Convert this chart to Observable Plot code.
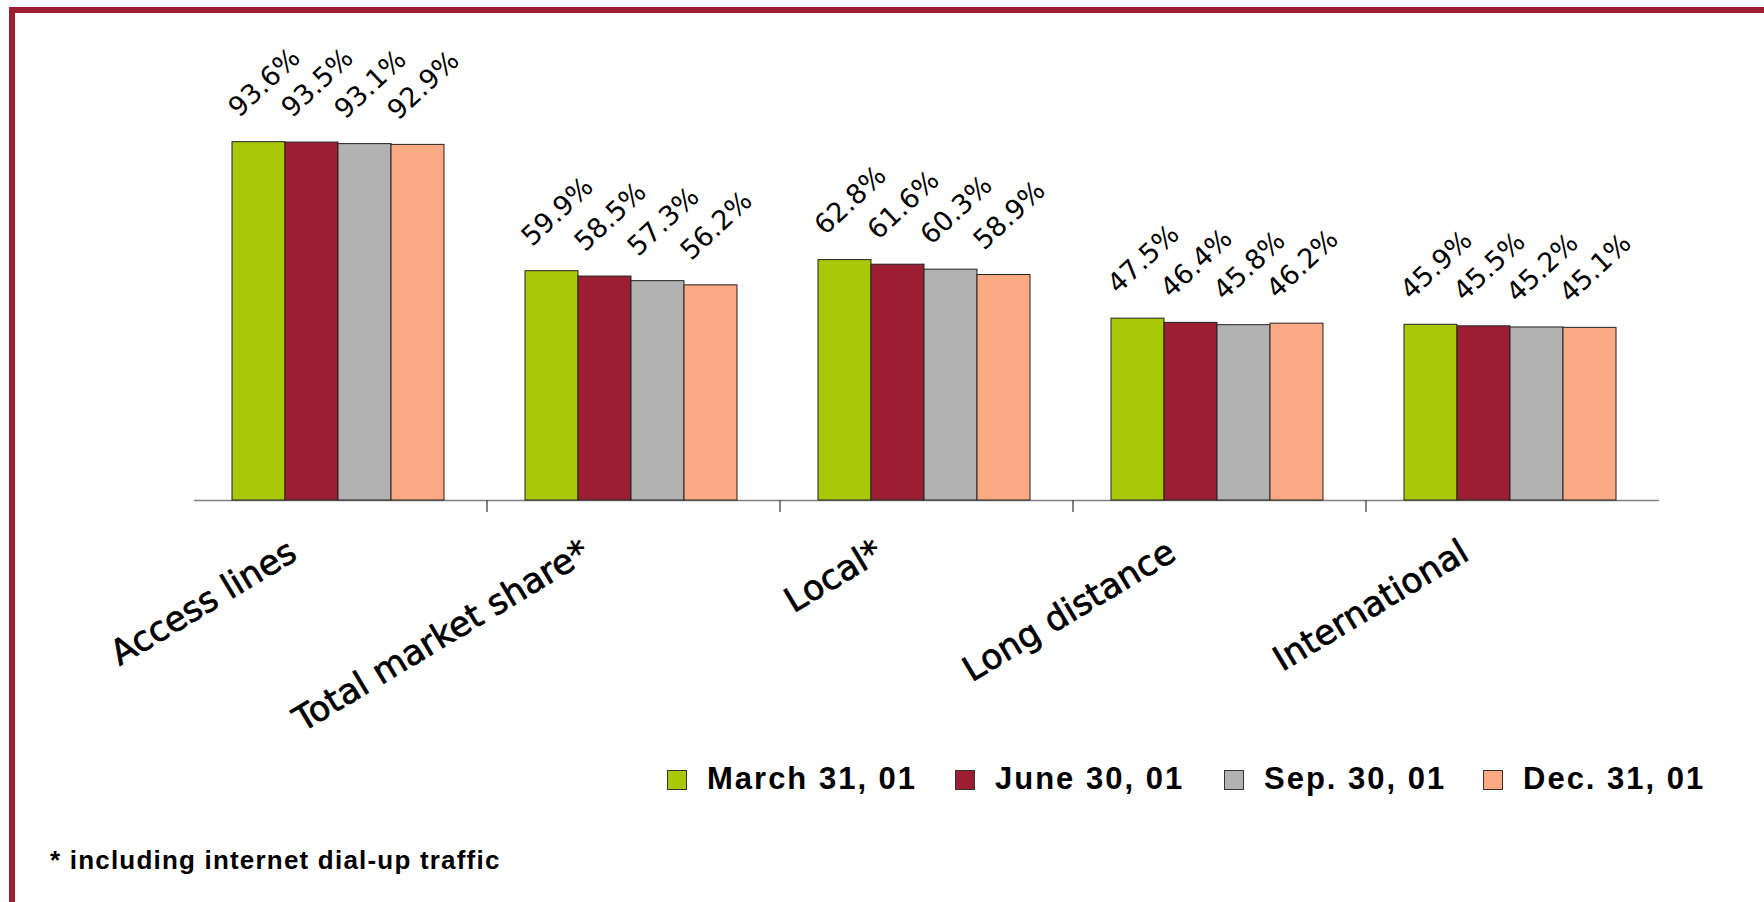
<!DOCTYPE html>
<html>
<head>
<meta charset="utf-8">
<script src="https://cdn.jsdelivr.net/npm/d3@7"></script>
<script src="https://cdn.jsdelivr.net/npm/@observablehq/plot@0.6"></script>
<style>
  html, body { margin: 0; padding: 0; background: #fff; }
  #wrap { position: relative; width: 1764px; height: 902px; overflow: hidden; background: #fff; }
  #frame { position: absolute; left: 9px; top: 7px; right: -10px; bottom: -10px;
           border-top: 6px solid #9b1e33; border-left: 6px solid #9b1e33; pointer-events: none; }
  #chart { position: absolute; left: 0; top: 0; }
  .leg { position: absolute; top: 770px; height: 20px; font-family: "Liberation Sans", Arial, sans-serif;
         font-size: 31px; font-weight: bold; letter-spacing: 2px; color: #000; white-space: nowrap; }
  .leg .sw { position: absolute; left: 0; top: 0; width: 18px; height: 18px; border: 1px solid #333; }
  .leg .lb { position: absolute; left: 40px; top: -8px; line-height: 34px; }
  #caption { position: absolute; left: 50px; top: 845px; font-family: "Liberation Sans", Arial, sans-serif;
             font-size: 26px; font-weight: bold; letter-spacing: 1.2px; color: #000; white-space: nowrap; }
</style>
</head>
<body>
<div id="wrap">
  <div id="chart"></div>
  <div id="frame"></div>
  <div id="legend"></div>
  <div id="caption"></div>
</div>
<script>
const categories = ["Access lines", "Total market share*", "Local*", "Long distance", "International"];
const seriesNames = ["March 31, 01", "June 30, 01", "Sep. 30, 01", "Dec. 31, 01"];
const march31 = [93.6, 59.9, 62.8, 47.5, 45.9];
const june30  = [93.5, 58.5, 61.6, 46.4, 45.5];
const sep30   = [93.1, 57.3, 60.3, 45.8, 45.2];
const dec31   = [92.9, 56.2, 58.9, 46.2, 45.1];
const seriesColors = ["#a8c808", "#9b1e33", "#b2b2b2", "#fbaa83"];
const captionText = "* including internet dial-up traffic";

const seriesValues = [march31, june30, sep30, dec31];
const data = [];
categories.forEach((c, i) => {
  seriesNames.forEach((s, j) => {
    data.push({category: c, series: s, value: seriesValues[j][i]});
  });
});

const plot = Plot.plot({
  width: 1764,
  height: 902,
  marginLeft: 192,
  marginRight: 102.5,
  marginTop: 117.2,
  marginBottom: 402,
  style: {background: "transparent", overflow: "visible"},
  fx: {domain: categories, padding: 0, axis: null, label: null},
  x: {domain: seriesNames, paddingInner: 0, paddingOuter: 0.75, align: 0.47, axis: null, label: null},
  y: {domain: [0, 100], axis: null, label: null},
  color: {domain: seriesNames, range: seriesColors},
  marks: [
    Plot.ruleY([0], {stroke: "#808080", strokeWidth: 1.6}),
    Plot.barY(data, {fx: "category", x: "series", y: "value", fill: "series",
                     stroke: "#222", strokeWidth: 1}),
    Plot.text(data, {fx: "category", x: "series", y: "value",
                     text: d => d.value.toFixed(1) + "%",
                     rotate: -43, textAnchor: "start", lineAnchor: "bottom",
                     dx: -20, dy: -24, fontSize: 27, fill: "#000",
                     fontFamily: "DejaVu Sans, sans-serif"}),
    Plot.text(categories, {fx: d => d, text: d => d, frameAnchor: "bottom",
                     rotate: -31, textAnchor: "end", lineAnchor: "bottom",
                     dx: -42, dy: 58, fontSize: 34.5, fill: "#000",
                     stroke: "#000", strokeWidth: 0.7,
                     fontFamily: "DejaVu Sans, sans-serif"})
  ]
});
document.getElementById("chart").appendChild(plot);

// category boundary ticks below the axis, placed with Plot's fx scale
const fx = plot.scale("fx");
const yScale = plot.scale("y");
const y0 = yScale.apply(0);
const svg = d3.select(plot);
categories.slice(1).forEach(c => {
  const xb = fx.apply(c);
  svg.append("line")
    .attr("x1", xb).attr("x2", xb)
    .attr("y1", y0).attr("y2", y0 + 12)
    .attr("stroke", "#333").attr("stroke-width", 1.2);
});

// legend
const legendLefts = [667, 955, 1224, 1483];
const legend = document.getElementById("legend");
seriesNames.forEach((s, i) => {
  const item = document.createElement("div");
  item.className = "leg";
  item.style.left = legendLefts[i] + "px";
  const sw = document.createElement("div");
  sw.className = "sw";
  sw.style.background = seriesColors[i];
  const lb = document.createElement("div");
  lb.className = "lb";
  lb.textContent = s;
  item.appendChild(sw);
  item.appendChild(lb);
  legend.appendChild(item);
});

document.getElementById("caption").textContent = captionText;
</script>
</body>
</html>
